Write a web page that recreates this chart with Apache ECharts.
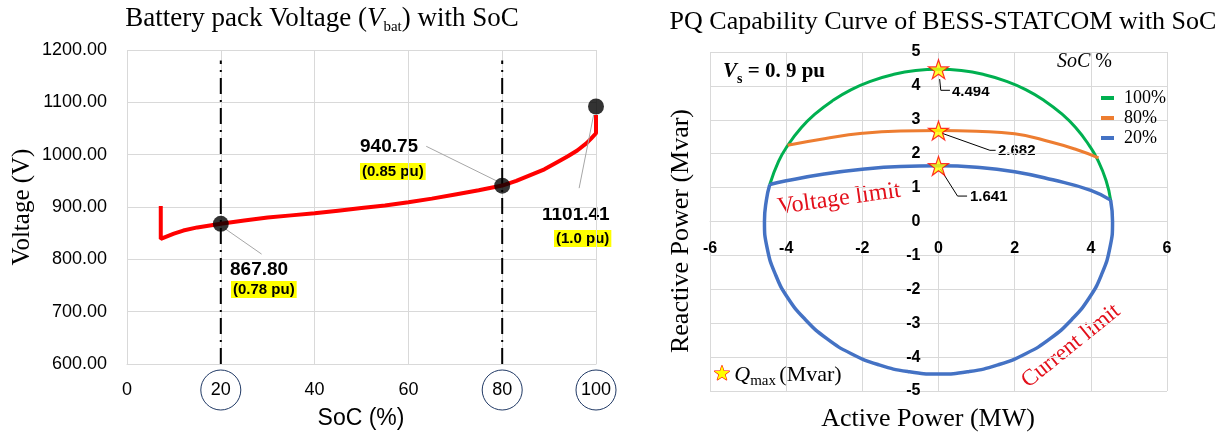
<!DOCTYPE html>
<html>
<head>
<meta charset="utf-8">
<script src="https://cdn.jsdelivr.net/npm/echarts@6.0.0/dist/echarts.min.js"></script>
<style>
  html, body { margin: 0; padding: 0; background: #fff; }
  #chart { width: 1228px; height: 438px; }
</style>
</head>
<body>
<div id="chart"></div>
<script>
// left panel: battery pack voltage vs SoC
const socPts = [7.2, 7.2, 8, 10, 12, 15, 20, 25, 30, 35, 40, 45, 50, 55, 60, 65, 70, 75, 80, 83, 86, 89, 92, 94, 96, 98, 99, 100, 100]
const vbatPts = [902, 839, 842, 849, 855, 861, 868, 874, 880, 884, 888, 893, 898, 903, 909, 916, 924, 932, 941, 950, 961, 972, 987, 997, 1008, 1022, 1031, 1041, 1076]
const markSoc = [20, 80, 100]
const markVbat = [867.8, 940.75, 1092]
const circledTicks = [20, 80, 100]

// right panel: PQ capability (P in MW, Q in Mvar)
const p100 = [-4.43, -4.2, -3.96, -3.6, -3.23, -2.8, -2.29, -1.75, -1.18, -0.6, 0, 0.6, 1.18, 1.75, 2.29, 2.8, 3.23, 3.6, 3.96, 4.17, 4.4, 4.52]
const q100 = [1.09, 1.77, 2.24, 2.77, 3.18, 3.55, 3.89, 4.15, 4.34, 4.455, 4.494, 4.455, 4.34, 4.15, 3.89, 3.55, 3.18, 2.77, 2.24, 1.84, 1.21, 0.63]
const p80 = [-3.96, -3, -2, -1, 0, 1, 2, 3, 3.6, 4.2]
const q80 = [2.25, 2.44, 2.6, 2.67, 2.682, 2.66, 2.59, 2.33, 2.13, 1.88]
const p20 = [-4.43, -4, -3, -2, -1, 0, 1, 2, 3, 4, 4.52]
const q20 = [1.09, 1.2, 1.4, 1.54, 1.62, 1.641, 1.6, 1.47, 1.23, 0.92, 0.63]
// current limit circle (drawn in the 20% colour)
const pCircle = [4.52, 4.57, 4.5, 4.29, 3.96, 3.5, 2.94, 2.29, 1.56, 0.79, 0, -0.79, -1.56, -2.29, -2.94, -3.5, -3.96, -4.29, -4.5, -4.57, -4.52, -4.43]
const qCircle = [0.63, 0, -0.78, -1.54, -2.25, -2.89, -3.45, -3.9, -4.23, -4.43, -4.5, -4.43, -4.23, -3.9, -3.45, -2.89, -2.25, -1.54, -0.78, 0, 0.63, 1.09]
const qmaxP = [0, 0, 0]
const qmaxQ = [4.494, 2.682, 1.641]

const zip = (a, b) => a.map((v, i) => [v, b[i]])

const serif = '"Liberation Serif", "DejaVu Serif", serif'
const sans = '"Liberation Sans", Arial, sans-serif'
const grid = '#d9d9d9'
const starPath = 'path://M50,0L61.8,35.4L99,35.4L69,57.3L80.4,92.7L50,70.8L19.6,92.7L31,57.3L1,35.4L38.2,35.4Z'

const text = (x, y, str, style, extra) => Object.assign({
  type: 'text', x: x, y: y, silent: true,
  style: Object.assign({ text: str, fill: '#000', align: 'left', verticalAlign: 'middle' }, style)
}, extra || {})

const chart = echarts.init(document.getElementById('chart'))

chart.setOption({
  animation: false,
  grid: [
    { left: 127, top: 50, width: 469, height: 314 },
    { left: 710, top: 52, width: 457, height: 339 }
  ],
  xAxis: [
    {
      gridIndex: 0, type: 'value', min: 0, max: 100, interval: 20,
      axisLine: { lineStyle: { color: grid } },
      axisTick: { show: false },
      splitLine: { lineStyle: { color: grid } },
      axisLabel: {
        margin: 6,
        formatter: v => (circledTicks.includes(v) ? '{c|' + v + '}' : '{n|' + v + '}'),
        rich: {
          n: { width: 40, height: 40, align: 'center', fontSize: 18, fontFamily: sans, color: '#000' },
          c: { width: 40, height: 40, align: 'center', fontSize: 18, fontFamily: sans, color: '#000',
               borderColor: '#1f3864', borderWidth: 1, borderRadius: 20 }
        }
      }
    },
    {
      // axis sits on Q = 0 (middle of the grid)
      gridIndex: 1, type: 'value', min: -6, max: 6, interval: 2,
      position: 'bottom', offset: -169.5,
      axisLine: { onZero: false, lineStyle: { color: grid } },
      axisTick: { show: false },
      splitLine: { lineStyle: { color: grid } },
      axisLabel: { margin: 19, fontSize: 16, fontWeight: 'bold', fontFamily: sans, color: '#000' }
    }
  ],
  yAxis: [
    {
      gridIndex: 0, type: 'value', min: 600, max: 1200, interval: 100,
      axisLine: { show: false },
      axisTick: { show: false },
      splitLine: { lineStyle: { color: grid } },
      axisLabel: { margin: 20, fontSize: 18, fontFamily: sans, color: '#000', formatter: v => v.toFixed(2) }
    },
    {
      // axis sits on P = 0
      gridIndex: 1, type: 'value', min: -5, max: 5, interval: 1,
      position: 'left', offset: -228.5,
      axisLine: { onZero: false, lineStyle: { color: grid } },
      axisTick: { show: false },
      splitLine: { lineStyle: { color: grid } },
      axisLabel: { margin: 18, fontSize: 16, fontWeight: 'bold', fontFamily: sans, color: '#000' }
    }
  ],
  legend: {
    data: ['100%', '80%', '20%'],
    orient: 'vertical', left: 1096, top: 84,
    icon: 'rect', itemWidth: 13, itemHeight: 4, itemGap: 2,
    textStyle: { fontFamily: serif, fontSize: 18, lineHeight: 18, color: '#000', padding: [0, 0, 0, 5] }
  },
  series: [
    // dash-dot markers at 20 % and 80 %
    { type: 'line', xAxisIndex: 0, yAxisIndex: 0, data: [[20, 600], [20, 1180]], showSymbol: false, silent: true,
      lineStyle: { color: '#000', width: 2, type: [16, 6, 2, 6] } },
    { type: 'line', xAxisIndex: 0, yAxisIndex: 0, data: [[80, 600], [80, 1180]], showSymbol: false, silent: true,
      lineStyle: { color: '#000', width: 2, type: [16, 6, 2, 6] } },
    { type: 'line', xAxisIndex: 0, yAxisIndex: 0, data: zip(socPts, vbatPts), showSymbol: false,
      lineStyle: { color: '#ff0000', width: 4 } },
    // leader lines
    { type: 'line', xAxisIndex: 0, yAxisIndex: 0, data: [[63.8, 1016], [79, 949]], showSymbol: false, silent: true,
      lineStyle: { color: '#a6a6a6', width: 1 } },
    { type: 'line', xAxisIndex: 0, yAxisIndex: 0, data: [[21, 858], [28.7, 810]], showSymbol: false, silent: true,
      lineStyle: { color: '#a6a6a6', width: 1 } },
    { type: 'line', xAxisIndex: 0, yAxisIndex: 0, data: [[99.5, 1076], [96.4, 936]], showSymbol: false, silent: true,
      lineStyle: { color: '#a6a6a6', width: 1 } },
    { type: 'scatter', xAxisIndex: 0, yAxisIndex: 0, data: zip(markSoc, markVbat), symbolSize: 16, z: 5,
      itemStyle: { color: '#000' } },

    // right panel
    { name: '100%', type: 'line', xAxisIndex: 1, yAxisIndex: 1, data: zip(p100, q100), smooth: true, showSymbol: false,
      color: '#00b050', lineStyle: { width: 3 } },
    { name: '80%', type: 'line', xAxisIndex: 1, yAxisIndex: 1, data: zip(p80, q80), smooth: true, showSymbol: false,
      color: '#ed7d31', lineStyle: { width: 3 } },
    { name: '20%', type: 'line', xAxisIndex: 1, yAxisIndex: 1, data: zip(p20, q20), smooth: true, showSymbol: false,
      color: '#4472c4', lineStyle: { width: 3.5 } },
    { name: '20%', type: 'line', xAxisIndex: 1, yAxisIndex: 1, data: zip(pCircle, qCircle), smooth: true, showSymbol: false,
      color: '#4472c4', lineStyle: { width: 3.5 } },
    { type: 'line', xAxisIndex: 1, yAxisIndex: 1, data: [[0.03, 4.2], [0.06, 3.87], [0.3, 3.87]], showSymbol: false, silent: true,
      lineStyle: { color: '#000', width: 1 } },
    { type: 'line', xAxisIndex: 1, yAxisIndex: 1, data: [[0.1, 2.6], [1.35, 2.1], [1.5, 2.1]], showSymbol: false, silent: true,
      lineStyle: { color: '#000', width: 1 } },
    { type: 'line', xAxisIndex: 1, yAxisIndex: 1, data: [[0.05, 1.55], [0.5, 0.75], [0.75, 0.75]], showSymbol: false, silent: true,
      lineStyle: { color: '#000', width: 1 } },
    { type: 'scatter', xAxisIndex: 1, yAxisIndex: 1, data: zip(qmaxP, qmaxQ), symbol: starPath, symbolKeepAspect: true,
      symbolSize: 20, z: 5, itemStyle: { color: '#ffff00', borderColor: '#ff0000', borderWidth: 1.2 } }
  ],
  graphic: [
    // left panel texts
    text(322, 19, '{t|Battery pack Voltage (}{i|V}{s|bat}{t|) with SoC}', {
      align: 'center',
      rich: {
        t: { fontFamily: serif, fontSize: 27, lineHeight: 32 },
        i: { fontFamily: serif, fontSize: 27, fontStyle: 'italic', lineHeight: 32 },
        s: { fontFamily: serif, fontSize: 15, verticalAlign: 'bottom', lineHeight: 15 }
      }
    }),
    text(22, 207, 'Voltage (V)', { align: 'center', fontFamily: serif, fontSize: 25 }, { rotation: Math.PI / 2 }),
    text(361, 419, 'SoC (%)', { align: 'center', fontFamily: sans, fontSize: 23 }),
    text(360, 147, '940.75', { fontFamily: sans, fontSize: 19, fontWeight: 'bold' }),
    text(360, 163, '(0.85 pu)', { verticalAlign: 'top', fontFamily: sans, fontSize: 15, fontWeight: 'bold',
      backgroundColor: '#ffff00', padding: [1, 2] }),
    text(230, 270, '867.80', { fontFamily: sans, fontSize: 19, fontWeight: 'bold' }),
    text(231, 281, '(0.78 pu)', { verticalAlign: 'top', fontFamily: sans, fontSize: 15, fontWeight: 'bold',
      backgroundColor: '#ffff00', padding: [1, 2] }),
    text(542, 215, '1101.41', { fontFamily: sans, fontSize: 19, fontWeight: 'bold' }),
    text(554, 230, '(1.0 pu)', { verticalAlign: 'top', fontFamily: sans, fontSize: 15, fontWeight: 'bold',
      backgroundColor: '#ffff00', padding: [1, 2] }),

    // right panel texts
    text(943, 22, 'PQ Capability Curve of BESS-STATCOM with SoC', { align: 'center', fontFamily: serif, fontSize: 26 }),
    text(681, 231, 'Reactive Power (Mvar)', { align: 'center', fontFamily: serif, fontSize: 26 }, { rotation: Math.PI / 2 }),
    text(928, 419, 'Active Power (MW)', { align: 'center', fontFamily: serif, fontSize: 26 }),
    text(723, 72, '{v|V}{s|s}{t| = 0. 9 pu}', {
      rich: {
        v: { fontFamily: serif, fontSize: 21, fontWeight: 'bold', fontStyle: 'italic', lineHeight: 28 },
        s: { fontFamily: serif, fontSize: 14, fontWeight: 'bold', verticalAlign: 'bottom', lineHeight: 14 },
        t: { fontFamily: serif, fontSize: 21, fontWeight: 'bold', lineHeight: 28 }
      }
    }),
    text(1112, 62, '{i|SoC} %', { align: 'right', fontFamily: serif, fontSize: 20,
      rich: { i: { fontFamily: serif, fontSize: 20, fontStyle: 'italic' } } }),
    text(952, 92, '4.494', { fontFamily: sans, fontSize: 15, fontWeight: 'bold' }),
    text(998, 151, '2.682', { fontFamily: sans, fontSize: 15, fontWeight: 'bold' }),
    text(970, 197, '1.641', { fontFamily: sans, fontSize: 15, fontWeight: 'bold' }),
    text(839, 199, 'Voltage limit', { align: 'center', fontFamily: serif, fontSize: 24, fill: '#e3101b' },
      { rotation: 0.14 }),
    text(1071, 346, 'Current limit', { align: 'center', fontFamily: serif, fontSize: 23, fill: '#e3101b' },
      { rotation: 0.68 }),
    text(713, 375, '{st|★} {q|Q}{s|max} {t|(Mvar)}', {
      rich: {
        st: { fontFamily: '"DejaVu Sans", sans-serif', fontSize: 20, fill: '#ffff00',
              stroke: '#ff0000', lineWidth: 1.2, lineHeight: 28 },
        q: { fontFamily: serif, fontSize: 22, fontStyle: 'italic', lineHeight: 28 },
        s: { fontFamily: serif, fontSize: 15, verticalAlign: 'bottom', lineHeight: 15 },
        t: { fontFamily: serif, fontSize: 22, lineHeight: 28 }
      }
    })
  ]
})
</script>
</body>
</html>
